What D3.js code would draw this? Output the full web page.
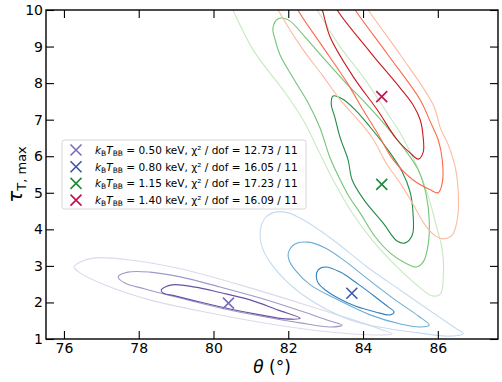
<!DOCTYPE html>
<html>
<head>
<meta charset="utf-8">
<script src="https://cdn.jsdelivr.net/npm/d3@7"></script>
<style>
  body { margin: 0; background: #fff; }
  svg { font-family: "DejaVu Sans", sans-serif; }
</style>
</head>
<body>
<div id="chart"></div>
<script>
// axis ticks
const thetaTicks = [76, 78, 80, 82, 84, 86];
const tauTicks = [1, 2, 3, 4, 5, 6, 7, 8, 9, 10];

// legend info
const kTemps = ["0.50", "0.80", "1.15", "1.40"];
const chi2 = ["12.73", "16.05", "17.23", "16.09"];
const dof = 11;

// best-fit points
const bestTheta = [80.4, 83.7, 84.5, 84.5];
const bestTau = [1.98, 2.25, 5.23, 7.63];

// contours [theta, tau]
const purple1 = [[78.60,2.34],[78.89,2.48],[79.51,2.42],[80.18,2.27],[80.98,2.07],[81.73,1.79],[82.32,1.57],
  [81.92,1.55],[81.25,1.66],[80.44,1.82],[79.64,2.01],[78.97,2.18],[78.65,2.26]];
const purple2 = [[77.45,2.70],[77.71,2.83],[78.30,2.83],[79.11,2.70],[80.18,2.42],[81.25,2.12],[82.32,1.77],
  [83.12,1.49],[83.44,1.38],[83.12,1.33],[82.32,1.44],[81.25,1.63],[80.18,1.85],[79.11,2.12],[78.17,2.37],[77.63,2.53]];
const purple3 = [[76.27,2.97],[76.48,3.13],[76.83,3.22],[77.77,3.16],[79.11,2.92],[80.71,2.48],[82.32,1.98],
  [83.66,1.55],[84.46,1.27],[84.78,1.14],[84.33,1.11],[83.12,1.19],[81.52,1.41],[79.91,1.71],[78.30,2.07],[77.10,2.48],[76.43,2.81]];

const blue1 = [[82.75,2.70],[82.80,2.89],[82.99,2.97],[83.39,2.83],[83.87,2.50],[84.33,2.15],[84.67,1.88],
  [84.83,1.74],[84.73,1.66],[84.33,1.74],[83.79,1.90],[83.33,2.12],[82.99,2.34],[82.80,2.53]];
const blue2 = [[82.00,3.35],[82.18,3.60],[82.53,3.65],[82.99,3.49],[83.52,3.13],[84.19,2.59],[84.86,2.07],
  [85.48,1.63],[85.77,1.38],[85.53,1.33],[85.00,1.41],[84.19,1.66],[83.39,2.04],[82.59,2.48],[82.18,2.89],[82.02,3.16]];
const blue3 = [[81.25,3.93],[81.38,4.31],[81.65,4.47],[82.00,4.45],[82.40,4.26],[83.20,3.71],[84.11,2.97],
  [84.99,2.34],[85.88,1.71],[86.47,1.30],[86.68,1.14],[86.33,1.08],[85.53,1.16],[84.59,1.30],[83.66,1.52],
  [82.32,2.26],[81.57,3.02],[81.30,3.52]];

const green1 = [[83.20,7.65],[83.44,7.57],[83.79,7.27],[84.19,6.80],[84.67,6.17],[85.05,5.57],[85.26,5.02],
  [85.34,4.39],[85.32,3.85],[85.13,3.63],[84.91,3.68],[84.54,4.17],[84.03,4.80],[83.71,5.35],[83.60,5.90],
  [83.39,6.50],[83.25,7.05],[83.15,7.43]];
const green2 = [[81.73,9.76],[82.00,9.73],[82.45,9.26],[82.99,8.63],[83.52,8.03],[84.06,7.46],[84.59,6.86],
  [85.07,6.25],[85.48,5.62],[85.69,4.94],[85.77,4.26],[85.74,3.57],[85.61,3.11],[85.42,2.97],[85.13,3.08],
  [84.73,3.35],[84.33,3.79],[83.92,4.45],[83.60,4.94],[83.39,5.35],[83.12,5.95],[82.85,6.77],[82.53,7.46],
  [82.13,8.14],[81.78,8.77],[81.65,9.18],[81.59,9.51]];
const green3 = [[80.39,10.28],[80.52,10.00],[81.06,8.91],[81.92,7.73],[82.40,6.99],[82.80,6.17],[83.20,5.35],
  [83.66,4.53],[84.24,3.71],[84.86,3.02],[85.53,2.40],[85.85,2.18],[86.07,2.23],[86.15,2.75],[86.12,3.44],
  [85.99,3.98],[85.72,4.99],[85.45,5.71],[84.99,6.64],[84.65,7.18],[84.06,8.09],[83.39,8.99],[82.77,10.00],[82.59,10.28]];

const red1 = [[82.80,10.28],[82.91,10.00],[83.12,9.26],[83.74,8.17],[84.38,7.27],[84.91,6.45],[85.26,6.09],
  [85.48,5.92],[85.61,6.11],[85.61,6.50],[85.53,6.99],[85.34,7.40],[84.99,7.87],[84.19,8.85],[83.31,10.00],[83.20,10.28]];
const red2 = [[82.16,10.28],[82.26,10.00],[82.85,9.10],[83.58,8.00],[84.00,7.27],[84.38,6.64],[84.81,5.90],
  [85.34,5.35],[85.80,5.08],[86.01,5.00],[86.12,5.27],[86.12,5.90],[86.01,6.45],[85.80,6.94],[85.53,7.54],
  [84.67,8.77],[83.79,10.00],[83.63,10.28]];
const red3 = [[81.60,10.28],[81.73,10.00],[82.40,8.91],[82.91,8.22],[83.39,7.54],[83.87,6.99],[84.25,6.50],
  [84.65,5.76],[84.99,5.27],[85.32,4.72],[85.66,4.12],[85.93,3.82],[86.15,3.74],[86.39,3.85],[86.52,4.26],
  [86.55,4.94],[86.47,5.68],[86.28,6.31],[86.07,6.77],[85.88,7.40],[85.00,8.77],[84.14,10.00],[83.98,10.28]];

const contourSets = [
  { lines: [purple3, purple2, purple1], colors: ["#dadaeb", "#9e9ac8", "#6a51a3"] },
  { lines: [blue3, blue2, blue1], colors: ["#c6dbef", "#6baed6", "#3182bd"] },
  { lines: [green3, green2, green1], colors: ["#c7e9c0", "#74c476", "#238b45"] },
  { lines: [red3, red2, red1], colors: ["#fcbba1", "#fb6a4a", "#cb181d"] }
];
const markerColors = ["#7b6fbb", "#3b56a5", "#1f8a3c", "#c4124a"];

const width = 502, height = 382;
const margin = { top: 10, right: 4, bottom: 43, left: 46 };

const svg = d3.select("#chart").append("svg")
  .attr("width", width)
  .attr("height", height);

const x = d3.scaleLinear()
  .domain([75.52, 87.61])
  .range([margin.left, width - margin.right]);

const y = d3.scaleLinear()
  .domain([1, 10])
  .range([height - margin.bottom, margin.top]);

svg.append("clipPath").attr("id", "plot-clip")
  .append("rect")
  .attr("x", margin.left).attr("y", margin.top)
  .attr("width", width - margin.left - margin.right)
  .attr("height", height - margin.top - margin.bottom);

const line = d3.line()
  .x(d => x(d[0]))
  .y(d => y(d[1]))
  .curve(d3.curveCatmullRomClosed.alpha(0.5));

const plot = svg.append("g").attr("clip-path", "url(#plot-clip)");

contourSets.forEach(set => {
  set.lines.forEach((pts, i) => {
    plot.append("path")
      .attr("d", line(pts))
      .attr("fill", "none")
      .attr("stroke", set.colors[i])
      .attr("stroke-width", 1.1);
  });
});

// best-fit crosses
const cross = (g, cx, cy, r, color, w) => {
  g.append("path")
    .attr("d", `M${cx - r},${cy - r}L${cx + r},${cy + r}M${cx - r},${cy + r}L${cx + r},${cy - r}`)
    .attr("stroke", color)
    .attr("stroke-width", w)
    .attr("fill", "none");
};
bestTheta.forEach((t, i) => {
  cross(plot, x(t), y(bestTau[i]), 5.5, markerColors[i], 1.6);
});

// axes, ticks pointing in
const xAxis = svg.append("g")
  .attr("transform", `translate(0,${height - margin.bottom})`)
  .call(d3.axisBottom(x).tickValues(thetaTicks).tickSizeInner(-8).tickSizeOuter(0).tickPadding(4));
const xTop = svg.append("g")
  .attr("transform", `translate(0,${margin.top})`)
  .call(d3.axisTop(x).tickValues(thetaTicks).tickSizeInner(-8).tickSizeOuter(0).tickFormat(""));
const yAxis = svg.append("g")
  .attr("transform", `translate(${margin.left},0)`)
  .call(d3.axisLeft(y).tickValues(tauTicks).tickSizeInner(-8).tickSizeOuter(0).tickPadding(3));
const yRight = svg.append("g")
  .attr("transform", `translate(${width - margin.right},0)`)
  .call(d3.axisRight(y).tickValues(tauTicks).tickSizeInner(-8).tickSizeOuter(0).tickFormat(""));

[xAxis, xTop, yAxis, yRight].forEach(g => {
  g.select(".domain").remove();
  g.selectAll(".tick line").attr("stroke", "#000").attr("stroke-width", 1.1);
  g.selectAll(".tick text")
    .attr("font-family", "DejaVu Sans")
    .attr("font-size", 14)
    .attr("fill", "#000");
});

svg.append("rect")
  .attr("x", margin.left).attr("y", margin.top)
  .attr("width", width - margin.left - margin.right)
  .attr("height", height - margin.top - margin.bottom)
  .attr("fill", "none")
  .attr("stroke", "#000")
  .attr("stroke-width", 1.4);

// axis labels
const xl = svg.append("text")
  .attr("x", (margin.left + width - margin.right) / 2)
  .attr("y", 373)
  .attr("text-anchor", "middle")
  .attr("font-size", 17);
xl.append("tspan").attr("font-style", "italic").text("θ");
xl.append("tspan").text(" (°)");

const yl = svg.append("text")
  .attr("transform", `translate(22,${(margin.top + height - margin.bottom) / 2}) rotate(-90)`)
  .attr("text-anchor", "middle")
  .attr("font-size", 20);
yl.append("tspan").attr("font-style", "italic").text("τ");
yl.append("tspan").attr("font-size", 13).attr("dy", 4).text("T, max");

// legend
const legend = svg.append("g").attr("transform", "translate(62,140)");
legend.append("rect")
  .attr("width", 244).attr("height", 69)
  .attr("rx", 2.5)
  .attr("fill", "#fff").attr("fill-opacity", 0.85)
  .attr("stroke", "#d6d6d6").attr("stroke-width", 1);

kTemps.forEach((k, i) => {
  const ry = 10 + i * 16.7;
  cross(legend, 14, ry, 5.5, markerColors[i], 1.6);
  const t = legend.append("text")
    .attr("x", 33).attr("y", ry + 4)
    .attr("font-size", 10.5)
    .attr("fill", "#000");
  t.append("tspan").attr("font-style", "italic").text("k");
  t.append("tspan").attr("font-size", 7.5).attr("dy", 2).text("B");
  t.append("tspan").attr("font-style", "italic").attr("dy", -2).text("T");
  t.append("tspan").attr("font-size", 7.5).attr("dy", 2).text("BB");
  t.append("tspan").attr("dy", -2).text(` = ${k} keV, χ² / dof = ${chi2[i]} / ${dof}`);
});
</script>
</body>
</html>
